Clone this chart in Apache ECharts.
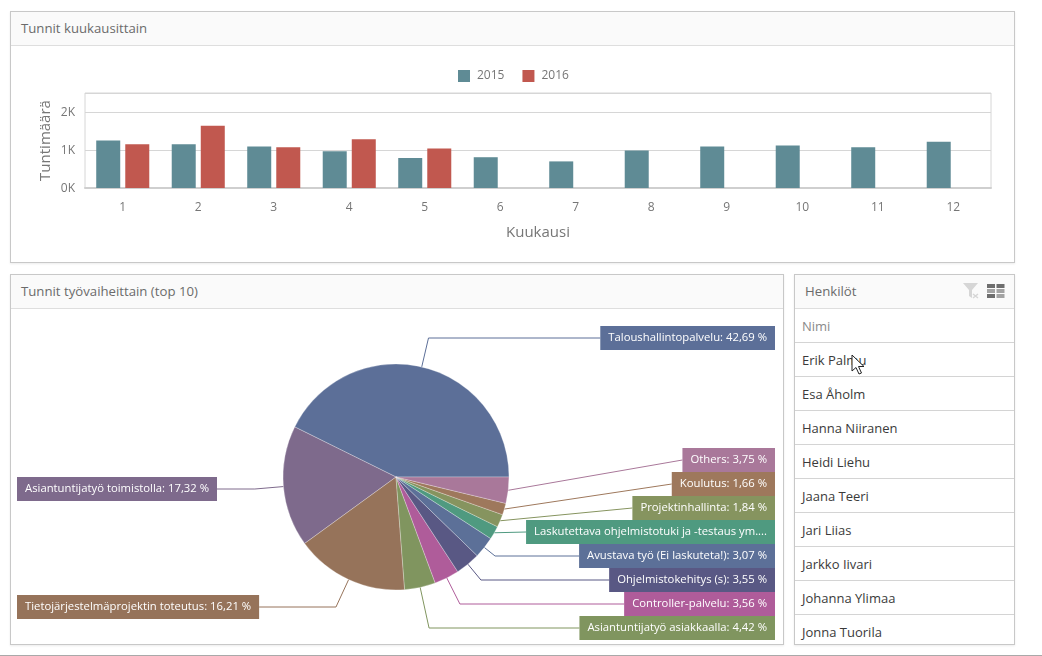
<!DOCTYPE html>
<html><head><meta charset="utf-8">
<script src="https://cdn.jsdelivr.net/npm/echarts@6/dist/echarts.min.js"></script>
<style>
html,body{margin:0;padding:0;background:#fff;width:1042px;height:656px;overflow:hidden;font-family:"Open Sans","Noto Sans",sans-serif}
.panel{position:absolute;box-sizing:border-box;border:1px solid #c8c8c8;box-shadow:0 1px 2px rgba(0,0,0,.08);background:#fff}
.head{height:34px;box-sizing:border-box;border-bottom:1px solid #dedede;background:#fafafa;color:#6b6b6b;font-size:13.2px;line-height:33px;padding-left:10px}
#chart{position:absolute;left:0;top:0;width:1042px;height:656px}
.row{height:34px;box-sizing:border-box;border-bottom:1px solid #d4d4d4;font-size:13px;line-height:34px;padding-left:7px;color:#3a3a3a;white-space:nowrap}
.row.h{color:#8a8a8a}
#list{height:335px;overflow:hidden}
#bottomline{position:absolute;left:0;top:655px;width:1042px;height:1px;background:#a9a9a9}
</style></head><body>
<div class="panel" style="left:10px;top:11px;width:1005px;height:252px"><div class="head">Tunnit kuukausittain</div></div>
<div class="panel" style="left:10px;top:274px;width:774px;height:371px"><div class="head">Tunnit työvaiheittain (top 10)</div></div>
<div class="panel" style="left:794px;top:274px;width:221px;height:371px">
  <div class="head">Henkilöt</div>
  <svg style="position:absolute;left:167px;top:7px" width="18" height="18" viewBox="0 0 18 18"><path d="M1 1h15l-6 7v8l-3-2V8z" fill="#d6d6d6"/><path d="M11 12l5 4M16 12l-5 4" stroke="#d6d6d6" stroke-width="1.5"/></svg>
  <svg style="position:absolute;left:192px;top:8px" width="18" height="16" viewBox="0 0 18 16"><rect x="0" y="1" width="8" height="4" fill="#6e6e6e"/><rect x="9.500" y="1" width="8" height="4" fill="#6e6e6e"/><rect x="0" y="6" width="8" height="4" fill="#a3a3a3"/><rect x="9.500" y="6" width="8" height="4" fill="#a3a3a3"/><rect x="0" y="11" width="8" height="4" fill="#6e6e6e"/><rect x="9.500" y="11" width="8" height="4" fill="#a3a3a3"/></svg>
  <div id="list"></div>
</div>
<div id="chart"></div>
<svg style="position:absolute;left:851px;top:354px" width="14" height="22" viewBox="0 0 14 22"><path d="M1 1v16l4-3.500 3 6.500 2.500-1-3-6.500h5.500z" fill="#fff" stroke="#222" stroke-width="1"/></svg>
<div id="bottomline"></div>
<script>
const months = ['1','2','3','4','5','6','7','8','9','10','11','12'];
const hours2015 = [1250,1150,1090,970,790,810,700,990,1090,1120,1070,1220];
const hours2016 = [1150,1640,1070,1280,1040,null,null,null,null,null,null,null];
const phaseNames = ['Taloushallintopalvelu','Asiantuntijatyö toimistolla','Tietojärjestelmäprojektin toteutus','Asiantuntijatyö asiakkaalla','Controller-palvelu','Ohjelmistokehitys (s)','Avustava työ (Ei laskuteta!)','Laskutettava ohjelmistotuki ja -testaus ym....','Projektinhallinta','Koulutus','Others'];
const phaseValues = [42.69,17.32,16.21,4.42,3.56,3.55,3.07,1.93,1.84,1.66,3.75];
const phaseShown = ['42,69','17,32','16,21','4,42','3,56','3,55','3,07','','1,84','1,66','3,75'];
const phaseColors = ['#5c6f98','#7e6a8c','#96735a','#80955f','#af5c9a','#595884','#5c7098','#4f9a80','#86945f','#9e785c','#a9789a'];
const persons = ['Nimi','Erik Palmu','Esa Åholm','Hanna Niiranen','Heidi Liehu','Jaana Teeri','Jari Liias','Jarkko Iivari','Johanna Ylimaa','Jonna Tuorila'];

document.getElementById('list').innerHTML = persons.map((p,i)=>`<div class="row${i===0?' h':''}">${p}</div>`).join('');

// label anchor layout: centre y of each label box, in pixels
const labelCentreY = [338,489,607,628,604,580,556,532,508,484,460];
const labelSide = ['r','l','l','r','r','r','r','r','r','r','r'];
const PIE_C = [396,477], RIGHT_X = 775, LEFT_X = 17;

const chart = echarts.init(document.getElementById('chart'), null, {renderer:'canvas'});
const FONT = '"Open Sans","Noto Sans",sans-serif';
chart.setOption({
  animation:false,
  textStyle:{fontFamily:FONT},
  legend:{left:453,top:65,itemWidth:12,itemHeight:12,itemGap:18,icon:'rect',
    textStyle:{color:'#767676',fontSize:12,padding:[0,0,0,2]},data:['2015','2016'],selectedMode:false},
  grid:{left:85,top:93,width:906,height:95,show:true,borderColor:'#d6d6d6',borderWidth:1,containLabel:false},
  xAxis:{type:'category',data:months,
    axisLine:{lineStyle:{color:'#cfcfcf',width:2}},axisTick:{show:false},
    axisLabel:{color:'#767676',fontSize:12,margin:14},
    name:'Kuukausi',nameLocation:'middle',nameGap:37,nameTextStyle:{color:'#767676',fontSize:15}},
  yAxis:{type:'value',min:0,max:2500,interval:1000,
    axisLine:{show:false},axisTick:{show:false},
    splitLine:{lineStyle:{color:'#d6d6d6'}},
    axisLabel:{color:'#767676',fontSize:12,margin:10,verticalAlign:'top',lineHeight:2,formatter:v=>(v/1000)+'K',showMaxLabel:false},
    name:'Tuntimäärä',nameLocation:'middle',nameGap:32,nameMoveOverlap:false,nameTextStyle:{color:'#767676',fontSize:15}},
  series:[
    {name:'2015',type:'bar',data:hours2015,barWidth:24,barGap:'21%',itemStyle:{color:'#5f8b95'},silent:true},
    {name:'2016',type:'bar',data:hours2016,barWidth:24,itemStyle:{color:'#c1584f'},silent:true},
    {name:'phases',type:'pie',center:PIE_C,radius:113,startAngle:0,clockwise:false,silent:true,
      avoidLabelOverlap:false,
      data:phaseNames.map((n,i)=>({name:n,value:phaseValues[i],shown:phaseShown[i],
        itemStyle:{color:phaseColors[i]}})),
      itemStyle:{borderColor:'rgba(255,255,255,.45)',borderWidth:.6},
      label:{show:true,position:'outside',color:'#fff',fontSize:11.3,lineHeight:16,padding:[4,8,4,8],
        formatter:p=>p.data.shown?`${p.name}: ${p.data.shown} %`:p.name,
        backgroundColor:'inherit'},
      labelLine:{show:true,length:20,length2:20,lineStyle:{width:1}},
      labelLayout:function(p){
        const i=p.dataIndex, y=labelCentreY[i], right=labelSide[i]==='r';
        const edge=p.labelLinePoints?p.labelLinePoints[0]:[PIE_C[0],PIE_C[1]];
        const endX=right?RIGHT_X-p.labelRect.width:LEFT_X+p.labelRect.width;
        const dx=edge[0]-PIE_C[0], dy=edge[1]-PIE_C[1];
        const t=(y-PIE_C[1])/dy;
        const pts=[edge];
        if(t>1) pts.push([PIE_C[0]+dx*t,y]);
        pts.push([endX,y]);
        return {x:right?RIGHT_X:LEFT_X,y:y,align:right?'right':'left',verticalAlign:'middle',labelLinePoints:pts,hideOverlap:false};
      }
    }
  ]
});
</script></body></html>
